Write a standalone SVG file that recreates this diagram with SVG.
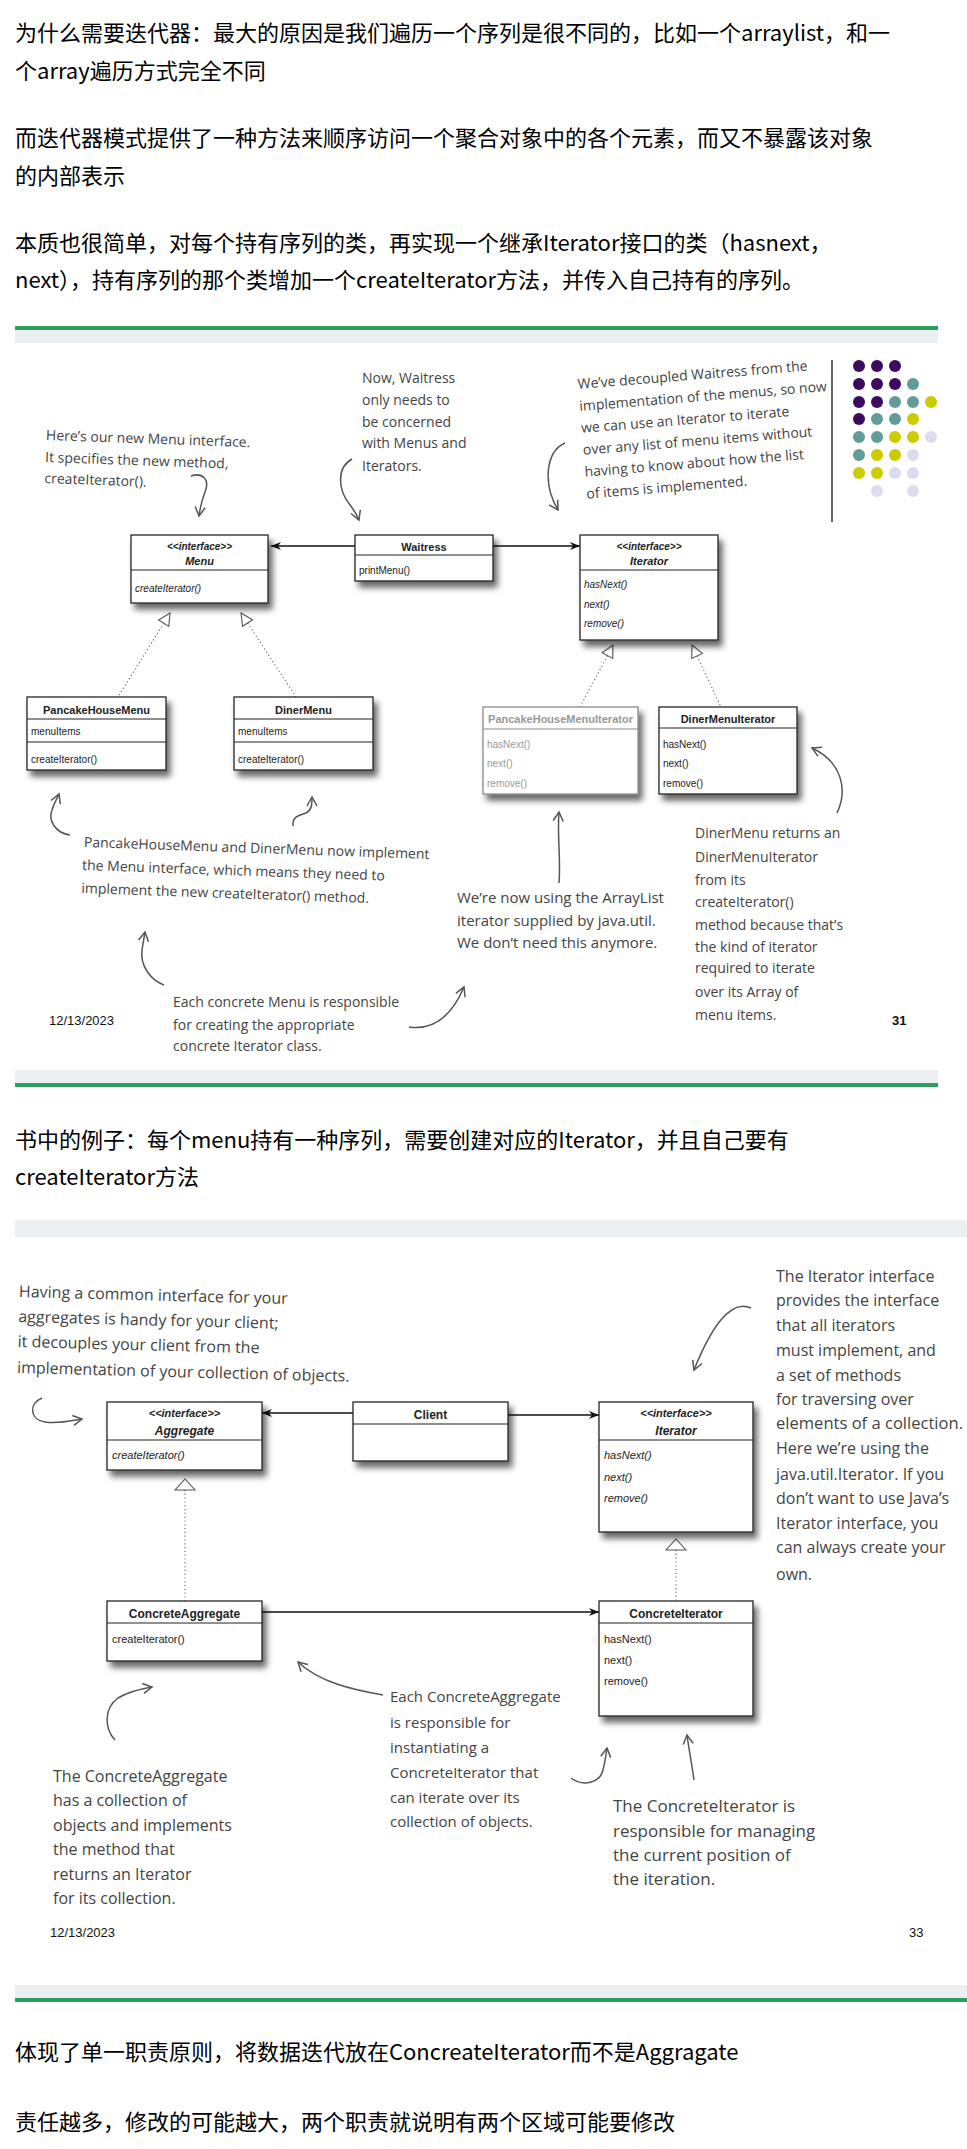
<svg xmlns="http://www.w3.org/2000/svg" width="967" height="2149" viewBox="0 0 967 2149">
<style>
.cn{font-family:"Noto Sans CJK SC","Noto Sans",sans-serif;font-size:22px;fill:#000}
.hw{font-family:"Open Sans","Liberation Sans",sans-serif;font-size:14px;fill:#444}
.h16{font-size:16px}
.h15{font-size:15px}
.h17{font-size:17px}
.box{fill:#fff;stroke:#222;stroke-width:1.3}
.gbox{fill:#fff;stroke:#8a8a8a;stroke-width:1.3}
.dv{stroke:#222;stroke-width:1.2}
.gdv{stroke:#8a8a8a;stroke-width:1.2}
.t{font-family:"Liberation Sans",Arial,sans-serif;font-size:10px;fill:#222}
.t2{font-family:"Liberation Sans",Arial,sans-serif;font-size:11px;fill:#222}
.g{fill:#999}
.b{font-weight:bold;text-anchor:middle}
.it{font-style:italic}
.ti{font-size:11px}
.ti2{font-size:12px}
.conn{stroke:#111;stroke-width:1.6;fill:none;marker-end:url(#arr)}
.dot{stroke:#666;stroke-width:1.1;stroke-dasharray:1.2 2.6;fill:none}
.tri{fill:#fff;stroke:#555;stroke-width:1.1}
.hwa{stroke:#555;stroke-width:1.5;fill:none;marker-end:url(#hh)}
.band{fill:#eceff1}
.grn{fill:#2e9e5e}
.num{font-family:"Liberation Sans",Arial,sans-serif;font-size:13px;fill:#111}
</style>
<defs>
<marker id="arr" viewBox="0 0 10 8" refX="10" refY="4" markerWidth="11" markerHeight="8" markerUnits="userSpaceOnUse" orient="auto">
<path d="M0,0 L10,4 L0,8 L3,4 Z" fill="#111"/>
</marker>
<marker id="hh" viewBox="0 0 12 12" refX="10" refY="6" markerWidth="12" markerHeight="12" markerUnits="userSpaceOnUse" orient="auto">
<path d="M1,1 L10,6 L1,11" fill="none" stroke="#555" stroke-width="1.5"/>
</marker>
<filter id="sh" x="-10%" y="-10%" width="130%" height="150%">
<feGaussianBlur in="SourceAlpha" stdDeviation="3"/>
<feOffset dx="4" dy="6"/>
<feComponentTransfer><feFuncA type="linear" slope="0.6"/></feComponentTransfer>
<feMerge><feMergeNode/><feMergeNode in="SourceGraphic"/></feMerge>
</filter>
</defs>
<rect width="967" height="2149" fill="#fff"/>

<g id="intro-text">
<text class="cn" x="15" y="41">为什么需要迭代器：最大的原因是我们遍历一个序列是很不同的，比如一个arraylist，和一</text>
<text class="cn" x="15" y="79">个array遍历方式完全不同</text>
<text class="cn" x="15" y="146">而迭代器模式提供了一种方法来顺序访问一个聚合对象中的各个元素，而又不暴露该对象</text>
<text class="cn" x="15" y="184">的内部表示</text>
<text class="cn" x="15" y="251">本质也很简单，对每个持有序列的类，再实现一个继承Iterator接口的类（hasnext，</text>
<text class="cn" x="15" y="288">next），持有序列的那个类增加一个createIterator方法，并传入自己持有的序列。</text>
</g>

<g id="slide1-frame">
<rect class="grn" x="15" y="326" width="923" height="4"/>
<rect class="band" x="15" y="330" width="923" height="13"/>
<rect class="band" x="15" y="1070" width="923" height="13"/>
<rect class="grn" x="15" y="1083" width="923" height="4"/>
</g>

<g id="s1-connectors">
<line class="conn" x1="355" y1="546" x2="271" y2="546"/>
<line class="conn" x1="493" y1="546" x2="580" y2="546"/>
<path class="dot" d="M163.7,623.2 L118,697"/>
<path class="dot" d="M247.6,623 L296,697"/>
<path class="dot" d="M607.4,655.6 L580,707"/>
<path class="dot" d="M697.1,655.9 L721,707"/>
<polygon class="tri" points="170,613 168.8,626.4 158.6,620"/>
<polygon class="tri" points="241,613 252.6,619.7 242.6,626.3"/>
<polygon class="tri" points="613,645 612.7,658.4 602.1,652.8"/>
<polygon class="tri" points="692,645 702.5,653.4 691.7,658.4"/>
<path class="hwa" d="M191,476 C203,472 210,480 205,492 C202,500 200,508 199,516"/>
<path class="hwa" d="M352,459 C336,468 338,490 350,505 C354,510 357,515 359,520"/>
<path class="hwa" d="M565,443 C545,452 543,485 558,510"/>
<path class="hwa" d="M70,835 C55,833 48,820 52,810 C54,803 57,799 59,794"/>
<path class="hwa" d="M293,826 C292,816 300,815 306,813 C312,810 312,804 312,797"/>
<path class="hwa" d="M164,985 C150,980 140,965 142,950 C143,943 144,938 145,932"/>
<path class="hwa" d="M409,1027 C430,1030 450,1020 464,987"/>
<path class="hwa" d="M559,883 C561,860 557,835 559,812"/>
<path class="hwa" d="M837,813 C848,790 842,762 812,748"/>
</g>

<g id="menu">
<rect class="box" x="131" y="535" width="137" height="68" filter="url(#sh)"/>
<line class="dv" x1="131" y1="570" x2="268" y2="570"/>
<text class="t b it" x="199.5" y="550">&lt;&lt;interface&gt;&gt;</text>
<text class="t b it ti" x="199.5" y="565">Menu</text>
<text class="t it" x="135" y="592">createIterator()</text>
</g>
<g id="waitress">
<rect class="box" x="355" y="535" width="138" height="46" filter="url(#sh)"/>
<line class="dv" x1="355" y1="555" x2="493" y2="555"/>
<text class="t b ti" x="424" y="551">Waitress</text>
<text class="t" x="359" y="574">printMenu()</text>
</g>
<g id="iterator1">
<rect class="box" x="580" y="535" width="138" height="105" filter="url(#sh)"/>
<line class="dv" x1="580" y1="570" x2="718" y2="570"/>
<text class="t b it" x="649" y="550">&lt;&lt;interface&gt;&gt;</text>
<text class="t b it ti" x="649" y="565">Iterator</text>
<text class="t it" x="584" y="588">hasNext()</text>
<text class="t it" x="584" y="608">next()</text>
<text class="t it" x="584" y="627">remove()</text>
</g>
<g id="pancakehousemenu">
<rect class="box" x="27" y="697" width="139" height="73" filter="url(#sh)"/>
<line class="dv" x1="27" y1="719" x2="166" y2="719"/>
<line class="dv" x1="27" y1="742" x2="166" y2="742"/>
<text class="t b ti" x="96.5" y="714">PancakeHouseMenu</text>
<text class="t" x="31" y="735">menuItems</text>
<text class="t" x="31" y="763">createIterator()</text>
</g>
<g id="dinermenu">
<rect class="box" x="234" y="697" width="139" height="73" filter="url(#sh)"/>
<line class="dv" x1="234" y1="719" x2="373" y2="719"/>
<line class="dv" x1="234" y1="742" x2="373" y2="742"/>
<text class="t b ti" x="303.5" y="714">DinerMenu</text>
<text class="t" x="238" y="735">menuItems</text>
<text class="t" x="238" y="763">createIterator()</text>
</g>
<g id="pancakehousemenuiterator">
<rect class="gbox" x="483" y="707" width="155" height="87" filter="url(#sh)"/>
<line class="gdv" x1="483" y1="729" x2="638" y2="729"/>
<text class="t b ti g" x="560.5" y="723">PancakeHouseMenuIterator</text>
<text class="t g" x="487" y="748">hasNext()</text>
<text class="t g" x="487" y="767">next()</text>
<text class="t g" x="487" y="787">remove()</text>
</g>
<g id="dinermenuiterator">
<rect class="box" x="659" y="707" width="138" height="87" filter="url(#sh)"/>
<line class="dv" x1="659" y1="728" x2="797" y2="728"/>
<text class="t b ti" x="728" y="723">DinerMenuIterator</text>
<text class="t" x="663" y="748">hasNext()</text>
<text class="t" x="663" y="767">next()</text>
<text class="t" x="663" y="787">remove()</text>
</g>

<g id="s1-notes">
<g transform="rotate(2 46 435)">
<text class="hw" x="46" y="440">Here’s our new Menu interface.</text>
<text class="hw" x="46" y="462">It specifies the new method,</text>
<text class="hw" x="46" y="483">createIterator().</text>
</g>
<text class="hw" x="362" y="383">Now, Waitress</text>
<text class="hw" x="362" y="405">only needs to</text>
<text class="hw" x="362" y="427">be concerned</text>
<text class="hw" x="362" y="448">with Menus and</text>
<text class="hw" x="362" y="471">Iterators.</text>
<g transform="rotate(-4.6 578 389)">
<text class="hw" x="578" y="389">We’ve decoupled Waitress from the</text>
<text class="hw" x="578" y="411">implementation of the menus, so now</text>
<text class="hw" x="578" y="433">we can use an Iterator to iterate</text>
<text class="hw" x="578" y="455">over any list of menu items without</text>
<text class="hw" x="578" y="477">having to know about how the list</text>
<text class="hw" x="578" y="499">of items is implemented.</text>
</g>
<line x1="832" y1="360" x2="832" y2="522" stroke="#333" stroke-width="1.5"/>
<g transform="rotate(2 84 842)">
<text class="hw" x="84" y="847" font-size="13.6">PancakeHouseMenu and DinerMenu now implement</text>
<text class="hw" x="83" y="870" font-size="13.6">the Menu interface, which means they need to</text>
<text class="hw" x="83" y="893" font-size="13.6">implement the new createIterator() method.</text>
</g>
<text class="hw" x="173" y="1007">Each concrete Menu is responsible</text>
<text class="hw" x="173" y="1030">for creating the appropriate</text>
<text class="hw" x="173" y="1051">concrete Iterator class.</text>
<text class="hw h15" x="457" y="903">We’re now using the ArrayList</text>
<text class="hw h15" x="457" y="926">iterator supplied by java.util.</text>
<text class="hw h15" x="457" y="948">We don’t need this anymore.</text>
<text class="hw" x="695" y="838">DinerMenu returns an</text>
<text class="hw" x="695" y="862">DinerMenuIterator</text>
<text class="hw" x="695" y="885">from its</text>
<text class="hw" x="695" y="907">createIterator()</text>
<text class="hw" x="695" y="930">method because that’s</text>
<text class="hw" x="695" y="952">the kind of iterator</text>
<text class="hw" x="695" y="973">required to iterate</text>
<text class="hw" x="695" y="997">over its Array of</text>
<text class="hw" x="695" y="1020">menu items.</text>
<text class="num" x="49" y="1025">12/13/2023</text>
<text class="num" x="892" y="1025" font-weight="bold">31</text>
</g>

<g id="logo-dots">
<circle cx="859" cy="366" r="6" fill="#3c0a5e"/><circle cx="877" cy="366" r="6" fill="#3c0a5e"/><circle cx="895" cy="366" r="6" fill="#3c0a5e"/>
<circle cx="859" cy="384" r="6" fill="#3c0a5e"/><circle cx="877" cy="384" r="6" fill="#3c0a5e"/><circle cx="895" cy="384" r="6" fill="#3c0a5e"/><circle cx="913" cy="384" r="6" fill="#629c9a"/>
<circle cx="859" cy="402" r="6" fill="#3c0a5e"/><circle cx="877" cy="402" r="6" fill="#3c0a5e"/><circle cx="895" cy="402" r="6" fill="#629c9a"/><circle cx="913" cy="402" r="6" fill="#629c9a"/><circle cx="931" cy="402" r="6" fill="#cccc00"/>
<circle cx="859" cy="419" r="6" fill="#3c0a5e"/><circle cx="877" cy="419" r="6" fill="#629c9a"/><circle cx="895" cy="419" r="6" fill="#629c9a"/><circle cx="913" cy="419" r="6" fill="#cccc00"/>
<circle cx="859" cy="437" r="6" fill="#629c9a"/><circle cx="877" cy="437" r="6" fill="#629c9a"/><circle cx="895" cy="437" r="6" fill="#cccc00"/><circle cx="913" cy="437" r="6" fill="#cccc00"/><circle cx="931" cy="437" r="6" fill="#dcdcef"/>
<circle cx="859" cy="455" r="6" fill="#629c9a"/><circle cx="877" cy="455" r="6" fill="#cccc00"/><circle cx="895" cy="455" r="6" fill="#cccc00"/><circle cx="913" cy="455" r="6" fill="#dcdcef"/>
<circle cx="859" cy="473" r="6" fill="#cccc00"/><circle cx="877" cy="473" r="6" fill="#cccc00"/><circle cx="895" cy="473" r="6" fill="#dcdcef"/><circle cx="913" cy="473" r="6" fill="#dcdcef"/>
<circle cx="877" cy="491" r="6" fill="#dcdcef"/><circle cx="913" cy="491" r="6" fill="#dcdcef"/>
</g>

<g id="middle-text">
<text class="cn" x="15" y="1148">书中的例子：每个menu持有一种序列，需要创建对应的Iterator，并且自己要有</text>
<text class="cn" x="15" y="1185">createIterator方法</text>
</g>

<g id="slide2-frame">
<rect class="band" x="15" y="1220" width="952" height="17"/>
<rect class="band" x="15" y="1985" width="952" height="13"/>
<rect class="grn" x="15" y="1998" width="952" height="4"/>
</g>

<g id="s2-connectors">
<line class="conn" x1="353" y1="1413" x2="262" y2="1413"/>
<line class="conn" x1="508" y1="1415" x2="599" y2="1415"/>
<line class="conn" x1="262" y1="1612" x2="599" y2="1612"/>
<path class="dot" d="M185,1490 L185,1601"/>
<path class="dot" d="M676,1550 L676,1601"/>
<polygon class="tri" points="185,1479 195,1490 175,1490"/>
<polygon class="tri" points="676,1539 686,1550 666,1550"/>
<path class="hwa" d="M42,1398 C28,1404 30,1420 45,1422 C58,1424 70,1421 82,1419"/>
<path class="hwa" d="M751,1308 C730,1298 710,1330 694,1370"/>
<path class="hwa" d="M115,1740 C104,1728 104,1708 118,1698 C128,1692 140,1689 152,1687"/>
<path class="hwa" d="M383,1695 C355,1690 320,1683 298,1662"/>
<path class="hwa" d="M571,1778 C583,1787 600,1783 603,1770 C605,1762 606,1755 607,1748"/>
<path class="hwa" d="M694,1780 C692,1765 689,1750 687,1735"/>
</g>

<g id="aggregate">
<rect class="box" x="107" y="1402" width="155" height="68" filter="url(#sh)"/>
<line class="dv" x1="107" y1="1440" x2="262" y2="1440"/>
<text class="t2 b it" x="184.5" y="1417">&lt;&lt;interface&gt;&gt;</text>
<text class="t2 b it ti2" x="184.5" y="1435">Aggregate</text>
<text class="t2 it" x="112" y="1459">createIterator()</text>
</g>
<g id="client">
<rect class="box" x="353" y="1402" width="155" height="59" filter="url(#sh)"/>
<line class="dv" x1="353" y1="1424" x2="508" y2="1424"/>
<text class="t2 b ti2" x="430.5" y="1419">Client</text>
</g>
<g id="iterator2">
<rect class="box" x="599" y="1402" width="154" height="130" filter="url(#sh)"/>
<line class="dv" x1="599" y1="1440" x2="753" y2="1440"/>
<text class="t2 b it" x="676" y="1417">&lt;&lt;interface&gt;&gt;</text>
<text class="t2 b it ti2" x="676" y="1435">Iterator</text>
<text class="t2 it" x="604" y="1459">hasNext()</text>
<text class="t2 it" x="604" y="1481">next()</text>
<text class="t2 it" x="604" y="1502">remove()</text>
</g>
<g id="concreteaggregate">
<rect class="box" x="107" y="1601" width="155" height="60" filter="url(#sh)"/>
<line class="dv" x1="107" y1="1623" x2="262" y2="1623"/>
<text class="t2 b ti2" x="184.5" y="1618">ConcreteAggregate</text>
<text class="t2" x="112" y="1643">createIterator()</text>
</g>
<g id="concreteiterator">
<rect class="box" x="599" y="1601" width="154" height="115" filter="url(#sh)"/>
<line class="dv" x1="599" y1="1623" x2="753" y2="1623"/>
<text class="t2 b ti2" x="676" y="1618">ConcreteIterator</text>
<text class="t2" x="604" y="1643">hasNext()</text>
<text class="t2" x="604" y="1664">next()</text>
<text class="t2" x="604" y="1685">remove()</text>
</g>

<g id="s2-notes">
<g transform="rotate(1.5 19 1292)">
<text class="hw h16" x="19" y="1297">Having a common interface for your</text>
<text class="hw h16" x="19" y="1322">aggregates is handy for your client;</text>
<text class="hw h16" x="19" y="1347">it decouples your client from the</text>
<text class="hw h16" x="19" y="1373">implementation of your collection of objects.</text>
</g>
<text class="hw h16" x="776" y="1282">The Iterator interface</text>
<text class="hw h16" x="776" y="1306">provides the interface</text>
<text class="hw h16" x="776" y="1331">that all iterators</text>
<text class="hw h16" x="776" y="1356">must implement, and</text>
<text class="hw h16" x="776" y="1381">a set of methods</text>
<text class="hw h16" x="776" y="1405">for traversing over</text>
<text class="hw h16" x="776" y="1429" textLength="187" lengthAdjust="spacingAndGlyphs">elements of a collection.</text>
<text class="hw h16" x="776" y="1454">Here we’re using the</text>
<text class="hw h16" x="776" y="1480">java.util.Iterator.  If you</text>
<text class="hw h16" x="776" y="1504">don’t want to use Java’s</text>
<text class="hw h16" x="776" y="1529">Iterator interface, you</text>
<text class="hw h16" x="776" y="1553">can always create your</text>
<text class="hw h16" x="776" y="1580">own.</text>
<text class="hw h16" x="53" y="1782">The ConcreteAggregate</text>
<text class="hw h16" x="53" y="1806">has a collection of</text>
<text class="hw h16" x="53" y="1831">objects and implements</text>
<text class="hw h16" x="53" y="1855">the method that</text>
<text class="hw h16" x="53" y="1880">returns an Iterator</text>
<text class="hw h16" x="53" y="1904">for its collection.</text>
<text class="hw h15" x="390" y="1702">Each ConcreteAggregate</text>
<text class="hw h15" x="390" y="1728">is responsible for</text>
<text class="hw h15" x="390" y="1753">instantiating a</text>
<text class="hw h15" x="390" y="1778">ConcreteIterator that</text>
<text class="hw h15" x="390" y="1803">can iterate over its</text>
<text class="hw h15" x="390" y="1827">collection of objects.</text>
<text class="hw h17" x="613" y="1812">The ConcreteIterator is</text>
<text class="hw h17" x="613" y="1837">responsible for managing</text>
<text class="hw h17" x="613" y="1861">the current position of</text>
<text class="hw h17" x="613" y="1885">the iteration.</text>
<text class="num" x="50" y="1937">12/13/2023</text>
<text class="num" x="909" y="1937">33</text>
</g>

<g id="closing-text">
<text class="cn" x="15" y="2060">体现了单一职责原则，将数据迭代放在ConcreateIterator而不是Aggragate</text>
<text class="cn" x="15" y="2130">责任越多，修改的可能越大，两个职责就说明有两个区域可能要修改</text>
</g>
</svg>
